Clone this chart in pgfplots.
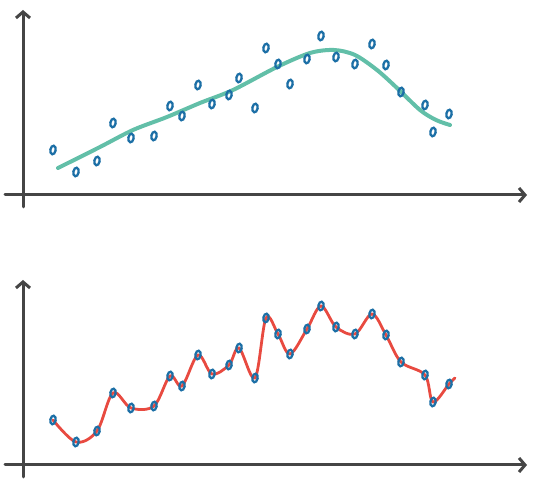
\documentclass[border=0pt]{standalone}
\usepackage{pgfplots}
\pgfplotsset{compat=1.18}
\usetikzlibrary{arrows.meta}

\definecolor{axgray}{HTML}{454545}
\definecolor{fitteal}{HTML}{62BFA8}
\definecolor{fitred}{HTML}{E84A40}
\definecolor{dotblue}{HTML}{1C6FA6}

% hand-written "0" shaped marker
\pgfdeclareplotmark{hand0}{%
  \pgfpathellipse{\pgfpointorigin}{\pgfpoint{2.6pt}{-0.5pt}}{\pgfpoint{0.8pt}{4.3pt}}%
  \pgfusepathqstroke}

\tikzset{axarrow/.style={axgray, line width=3pt, line cap=round,
  -{Straight Barb[length=6pt,width=14pt]}}}

% samples (x, height above the x axis)
\pgfplotstableread{
x y
53 45
76 23
97 34
113 72
131 57
154 59
170 89
182 79
198 110
212 91
229 100
239 117
255 87
266 147
278 131
290 111
307 136
321 159
336 138
355 131
372 151
386 130
401 103
425 90
433 63
449 81
}\samples

\begin{document}
\begin{tikzpicture}
\pgfplotsset{panel/.style={scale only axis, width=554pt, height=246pt,
  xmin=0, xmax=554, hide axis, clip=false}}

% top: smooth fit
\begin{axis}[panel, at={(0,246pt)}, ymin=-51, ymax=195]
\path (rel axis cs:0,0) rectangle (rel axis cs:1,1);
\draw[axarrow] (axis cs:23,-12) -- (axis cs:23,185);
\draw[axarrow] (axis cs:5,0) -- (axis cs:527,0);
\addplot[fitteal, line width=4pt, smooth, line cap=round] coordinates {
  (58,27) (100,48) (133,65) (167,78) (200,92) (233,105) (277,128)
  (310,142) (334,145) (355,140) (377,125) (397,107) (420,85) (436,75) (450,70)};
\addplot[only marks, mark=hand0, mark options={dotblue, line width=2.3pt}] table {\samples};
\end{axis}

% bottom: overfit through every sample
\begin{axis}[panel, at={(0,0)}, ymin=-27, ymax=219]
\path (rel axis cs:0,0) rectangle (rel axis cs:1,1);
\draw[axarrow] (axis cs:23,-12) -- (axis cs:23,185);
\draw[axarrow] (axis cs:5,0) -- (axis cs:527,0);
\addplot[fitred, line width=2.8pt, smooth, tension=0.55, line cap=round] coordinates {
  (53,45) (76,23) (97,34) (113,72) (131,57) (154,59) (170,89) (182,79)
  (198,110) (212,91) (229,100) (239,117) (255,87) (266,147) (278,131)
  (290,111) (307,136) (321,159) (336,138) (355,131) (372,151) (386,130)
  (401,103) (425,90) (433,63) (449,81) (455,87)};
\addplot[only marks, mark=hand0, mark options={dotblue, line width=2.3pt}] table {\samples};
\end{axis}
\end{tikzpicture}
\end{document}
